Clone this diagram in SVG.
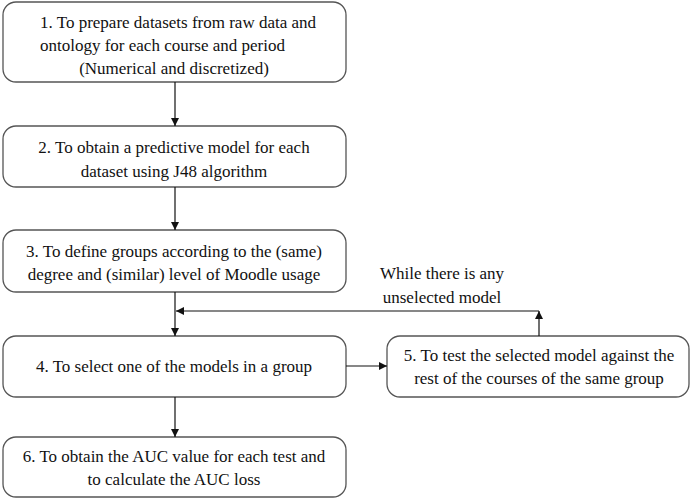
<svg xmlns="http://www.w3.org/2000/svg" width="690" height="500" viewBox="0 0 690 500">
<defs>
<marker id="ah" viewBox="0 0 10 10" refX="10" refY="5" markerWidth="9" markerHeight="8" markerUnits="userSpaceOnUse" orient="auto">
<path d="M0,0 L10,5 L0,10 z" fill="#111"/>
</marker>
</defs>
<rect width="690" height="500" fill="#fff"/>
<g id="node1">
<rect x="3" y="2" width="343" height="80" rx="13" fill="#fff" stroke="#555" stroke-width="1.3"/>
<text x="40" y="28" font-family="Liberation Serif, serif" font-size="17" fill="#111">1. To prepare datasets from raw data and</text>
<text x="40" y="51" font-family="Liberation Serif, serif" font-size="17" fill="#111">ontology for each course and period</text>
<text x="174" y="74" font-family="Liberation Serif, serif" font-size="17" fill="#111" text-anchor="middle">(Numerical and discretized)</text>
</g>
<g id="node2">
<rect x="3" y="126" width="343" height="61" rx="13" fill="#fff" stroke="#555" stroke-width="1.3"/>
<text x="174" y="153" font-family="Liberation Serif, serif" font-size="17" fill="#111" text-anchor="middle">2. To obtain a predictive model for each</text>
<text x="174" y="177" font-family="Liberation Serif, serif" font-size="17" fill="#111" text-anchor="middle">dataset using J48 algorithm</text>
</g>
<g id="node3">
<rect x="3" y="230" width="343" height="62" rx="13" fill="#fff" stroke="#555" stroke-width="1.3"/>
<text x="174" y="257" font-family="Liberation Serif, serif" font-size="17" fill="#111" text-anchor="middle">3. To define groups according to the (same)</text>
<text x="174" y="280" font-family="Liberation Serif, serif" font-size="17" fill="#111" text-anchor="middle">degree and (similar) level of Moodle usage</text>
</g>
<g id="node4">
<rect x="3" y="336" width="343" height="61" rx="13" fill="#fff" stroke="#555" stroke-width="1.3"/>
<text x="174" y="372" font-family="Liberation Serif, serif" font-size="17" fill="#111" text-anchor="middle">4. To select one of the models in a group</text>
</g>
<g id="node5">
<rect x="387" y="336" width="302" height="61" rx="13" fill="#fff" stroke="#555" stroke-width="1.3"/>
<text x="539" y="361" font-family="Liberation Serif, serif" font-size="17" fill="#111" text-anchor="middle">5. To test the selected model against the</text>
<text x="539" y="384" font-family="Liberation Serif, serif" font-size="17" fill="#111" text-anchor="middle">rest of the courses of the same group</text>
</g>
<g id="node6">
<rect x="3" y="437" width="343" height="60" rx="13" fill="#fff" stroke="#555" stroke-width="1.3"/>
<text x="174" y="462" font-family="Liberation Serif, serif" font-size="17" fill="#111" text-anchor="middle">6. To obtain the AUC value for each test and</text>
<text x="174" y="485" font-family="Liberation Serif, serif" font-size="17" fill="#111" text-anchor="middle">to calculate the AUC loss</text>
</g>
<g id="connectors" stroke="#111" stroke-width="1.2" fill="none">
<line x1="175" y1="82" x2="175" y2="126" marker-end="url(#ah)"/>
<line x1="175" y1="187" x2="175" y2="230" marker-end="url(#ah)"/>
<line x1="175" y1="292" x2="175" y2="336" marker-end="url(#ah)"/>
<line x1="175" y1="397" x2="175" y2="437" marker-end="url(#ah)"/>
<line x1="346" y1="366" x2="387" y2="366" marker-end="url(#ah)"/>
<line x1="539" y1="336" x2="539" y2="311" marker-end="url(#ah)"/>
<line x1="539" y1="311" x2="176" y2="311" marker-end="url(#ah)"/>
</g>
<g id="loop-label">
<text x="442" y="279" font-family="Liberation Serif, serif" font-size="17" fill="#111" text-anchor="middle">While there is any</text>
<text x="442" y="303" font-family="Liberation Serif, serif" font-size="17" fill="#111" text-anchor="middle">unselected model</text>
</g>
</svg>
